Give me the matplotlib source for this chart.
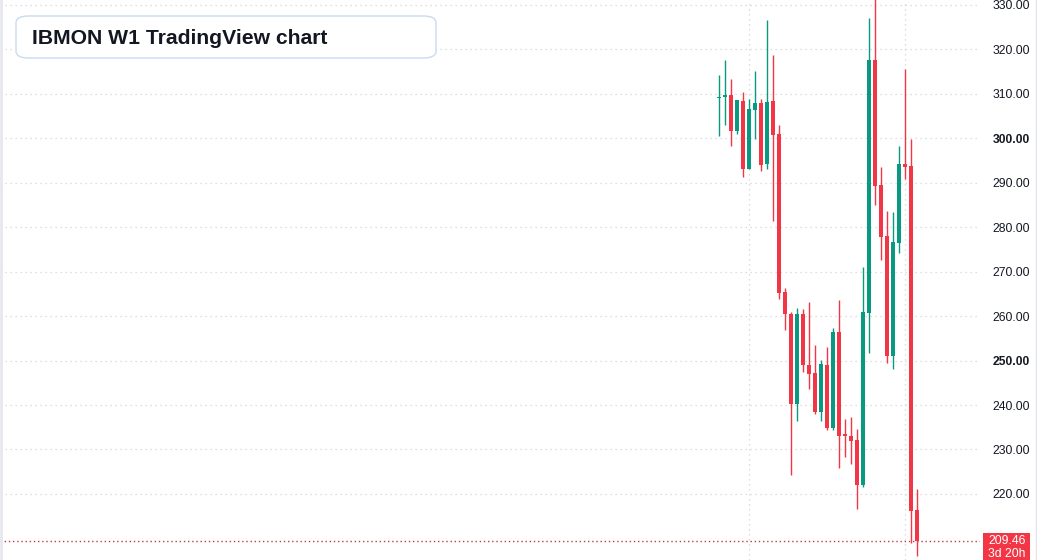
import matplotlib.pyplot as plt
from matplotlib.patches import FancyBboxPatch, Rectangle
from matplotlib.lines import Line2D

# weekly candles, oldest first
opens  = [309.0, 309.2, 309.8, 301.7, 308.4, 293.2, 306.4, 307.9, 294.3, 308.4,
          301.0, 265.4, 260.5, 240.3, 260.5, 249.0, 247.2, 238.5, 249.0, 234.9,
          256.4, 233.3, 233.1, 232.1, 222.1, 260.8, 317.6, 289.5, 278.0, 251.1,
          276.5, 294.2, 293.8, 216.4]
highs  = [314.2, 317.6, 313.4, 308.7, 310.4, 308.9, 315.2, 308.9, 326.6, 318.7,
          303.0, 266.4, 260.9, 261.8, 261.6, 263.2, 253.5, 250.1, 253.1, 257.3,
          263.6, 236.9, 237.4, 234.6, 271.1, 327.1, 332.0, 293.6, 283.7, 283.4,
          298.3, 315.7, 299.8, 221.1]
lows   = [300.6, 303.0, 298.3, 301.0, 291.4, 293.0, 299.9, 292.7, 293.2, 281.5,
          263.8, 256.9, 224.3, 236.5, 247.5, 243.5, 238.0, 236.3, 234.4, 234.4,
          225.9, 228.4, 226.8, 216.7, 221.6, 251.6, 285.1, 272.7, 249.5, 248.2,
          274.3, 290.9, 209.0, 206.1]
closes = [309.3, 309.8, 301.7, 308.6, 293.2, 306.6, 307.9, 294.1, 308.2, 300.8,
          265.3, 260.5, 240.3, 260.5, 248.9, 247.05, 238.5, 249.2, 234.9, 256.4,
          233.1, 233.1, 232.0, 222.1, 260.9, 317.6, 289.3, 277.9, 251.1, 276.7,
          294.2, 293.6, 216.2, 209.46]

price_ticks = [220, 230, 240, 250, 260, 270, 280, 290, 300, 310, 320, 330]
bold_ticks = [250, 300]
vlines_at = [5, 31]
last_price = "209.46"
countdown = "3d 20h"
title = "IBMON W1 TradingView chart"

UP = "#089981"
DOWN = "#F23645"
GRID = "#d1d4dc"

W, H = 1037, 560
fig = plt.figure(figsize=(W / 100, H / 100), dpi=100)
ax = fig.add_axes([0, 0, 980 / W, 1])

n = len(opens)
for i in range(n):
    o, h, l, c = opens[i], highs[i], lows[i], closes[i]
    col = UP if c >= o else DOWN
    ax.vlines(i, l, h, color=col, lw=1, zorder=3)
    bottom = min(o, c)
    height = max(abs(c - o), 0.3)
    ax.add_patch(Rectangle((i - 0.4, bottom), 0.8, height, facecolor=col,
                           edgecolor='none', zorder=4))

# x range: candle 0 sits at pixel 719, 6 px per candle
px = 6
x0 = -719 / px
ax.set_xlim(x0, x0 + 980 / px)
ax.set_ylim(330 - 555 / 4.445, 330 + 5 / 4.445)

for p in price_ticks:
    ax.axhline(p, color=GRID, lw=0.9, ls=(0, (1, 3)), zorder=1)
for v in vlines_at:
    ax.axvline(v, color=GRID, lw=0.9, ls=(0, (1, 3)), zorder=1)

last = closes[-1]
ax.axhline(last, color="#c0394a", lw=1, ls=(0, (1, 2)), zorder=2)

ax.set_xticks([])
ax.yaxis.tick_right()
ax.set_yticks(price_ticks)
ax.set_yticklabels([f"{p:.2f}" for p in price_ticks])
ax.tick_params(axis='y', length=0, pad=9, labelsize=8.7, labelcolor="#131722")
for lab, p in zip(ax.get_yticklabels(), price_ticks):
    lab.set_fontfamily("Liberation Sans")
    if p in bold_ticks:
        lab.set_fontweight("bold")
for s in ax.spines.values():
    s.set_visible(False)

# last price tag on the price scale
yfig = ax.transData.transform((0, last))[1] / H
fig.patches.append(Rectangle((983 / W, 0), 47 / W, 27 / H, transform=fig.transFigure,
                             facecolor=DOWN, edgecolor='none', zorder=5))
fig.text(1007 / W, yfig, last_price, color='white', fontsize=8.7, ha='center',
         va='center', family="Liberation Sans", zorder=6)
fig.text(1007 / W, 6 / H, countdown, color='white', fontsize=8.7, ha='center',
         va='center', family="Liberation Sans", zorder=6)

# frame lines at left and right edge
fig.add_artist(Line2D([1 / W, 1 / W], [0, 1], color="#e6e8ee", lw=2))
fig.add_artist(Line2D([1036 / W, 1036 / W], [0, 1], color="#e0e3eb", lw=1))

# title box
fig.patches.append(FancyBboxPatch((16 / W, 1 - 58 / H), 420 / W, 42 / H,
                                  boxstyle="round,pad=0,rounding_size=0.012",
                                  transform=fig.transFigure, facecolor='white',
                                  edgecolor="#c9dbf3", lw=1, zorder=7))
fig.text(32 / W, 1 - 38 / H, title, fontsize=15.2, fontweight='bold',
         color="#131722", family="Liberation Sans", va='center', ha='left', zorder=8)

fig.savefig("out.png", dpi=100)
